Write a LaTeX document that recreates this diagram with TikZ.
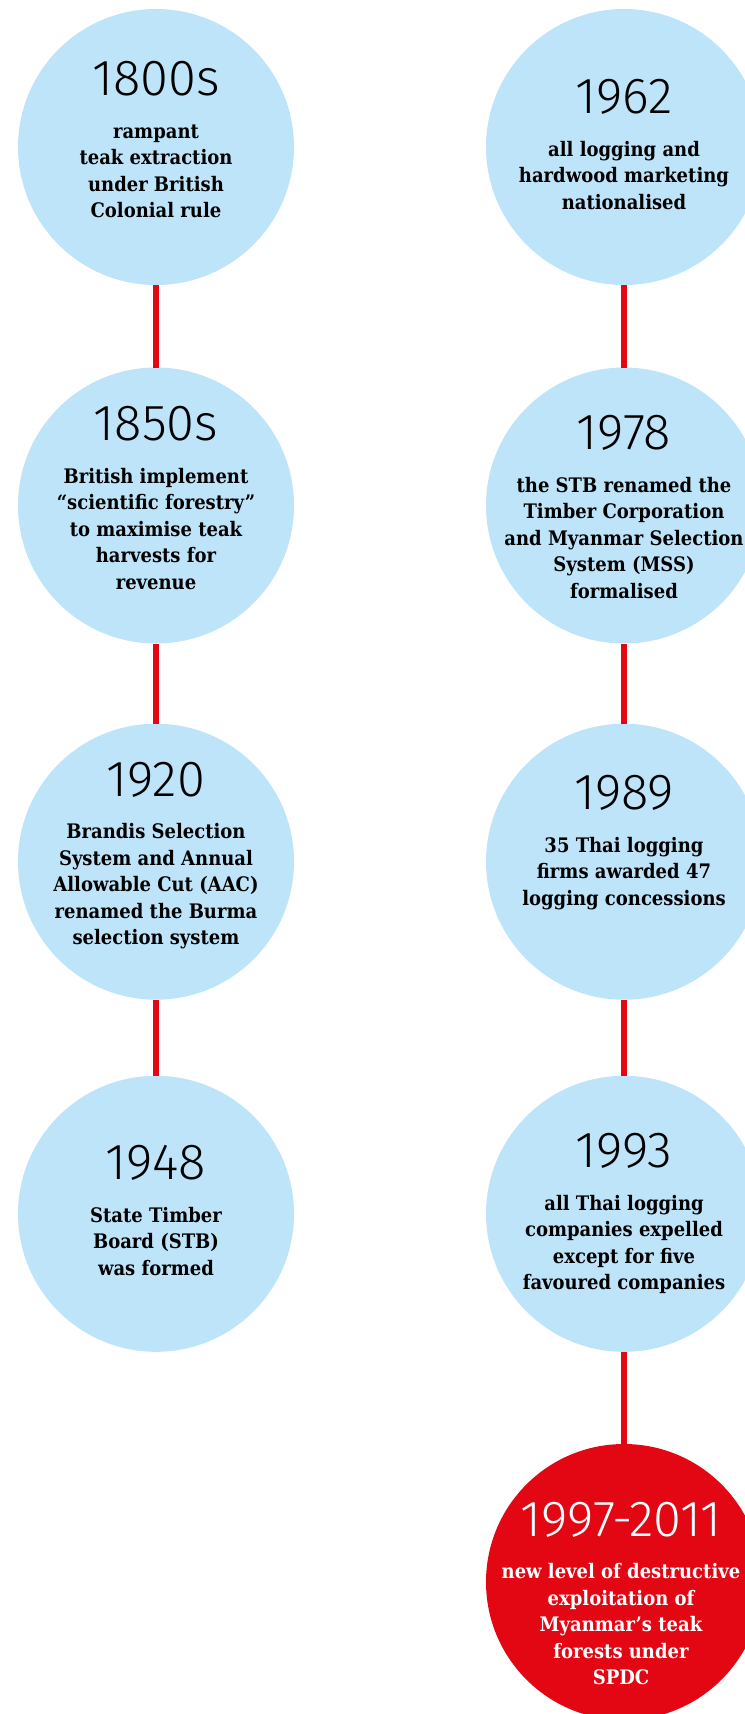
\documentclass[tikz,border=0pt]{standalone}
\usepackage{fontspec}
\setmainfont{DejaVu Serif Condensed}
\newfontfamily\yearfont{Fira Sans Light}
\usepackage{tikz}
\definecolor{bubbleblue}{RGB}{190,228,249}
\definecolor{timelinered}{RGB}{227,6,19}

\begin{document}
\begin{tikzpicture}[x=0.75pt,y=-0.75pt]
        \tikzstyle{bubble}=[circle,fill=bubbleblue,minimum size=207pt,inner sep=0pt,outer sep=0pt]
        \tikzstyle{redbubble}=[bubble,fill=timelinered]
        \tikzstyle{note}=[anchor=north,align=center,inner sep=0pt,text=black,font=\bfseries\fontsize{15}{19.9}\selectfont]
        \tikzstyle{rednote}=[note,text=white]
        \tikzstyle{link}=[draw=timelinered,line width=4.5pt]
        \newcommand{\yr}[1]{{\yearfont\mdseries\fontsize{38}{38}\selectfont #1}\\[12pt]}

        \clip (0,0) rectangle (745,1714);

        % left column
        \node[bubble] (n1) at (156,147) {};
        \node[bubble] (n2) at (156,505.5) {};
        \node[bubble] (n3) at (156,861.7) {};
        \node[bubble] (n4) at (156,1213.8) {};

        % right column
        \node[bubble] (n5) at (624,147) {};
        \node[bubble] (n6) at (624,505.5) {};
        \node[bubble] (n7) at (624,861.7) {};
        \node[bubble] (n8) at (624,1213.8) {};
        \node[redbubble] (n9) at (624,1582) {};

        \draw[link] (n1.south) -- (n2.north);
        \draw[link] (n2.south) -- (n3.north);
        \draw[link] (n3.south) -- (n4.north);
        \draw[link] (n5.south) -- (n6.north);
        \draw[link] (n6.south) -- (n7.north);
        \draw[link] (n7.south) -- (n8.north);
        \draw[link] (n8.south) -- (n9.north);

        \node[note] (t1) at (156,61) {\yr{1800s}rampant\\teak extraction\\under British\\Colonial rule};
        \node[note] (t2) at (156,406) {\yr{1850s}British implement\\“scientific forestry”\\to maximise teak\\harvests for\\revenue};
        \node[note] (t3) at (156,761.7) {\yr{1920}Brandis Selection\\System and Annual\\Allowable Cut (AAC)\\renamed the Burma\\selection system};
        \node[note] (t4) at (156,1145) {\yr{1948}State Timber\\Board (STB)\\was formed};
        \node[note] (t5) at (624,79) {\yr{1962}all logging and\\hardwood marketing\\nationalised};
        \node[note] (t6) at (624,415) {\yr{1978}the STB renamed the\\Timber Corporation\\and Myanmar Selection\\System (MSS)\\formalised};
        \node[note] (t7) at (624,775) {\yr{1989}35 Thai logging\\firms awarded 47\\logging concessions};
        \node[note] (t8) at (624,1133.3) {\yr{1993}all Thai logging\\companies expelled\\except for five\\favoured companies};
        \node[rednote] (t9) at (621,1501.7) {\yr{1997-2011}new level of destructive\\exploitation of\\Myanmar’s teak\\forests under\\SPDC};
    \end{tikzpicture}
\end{document}
